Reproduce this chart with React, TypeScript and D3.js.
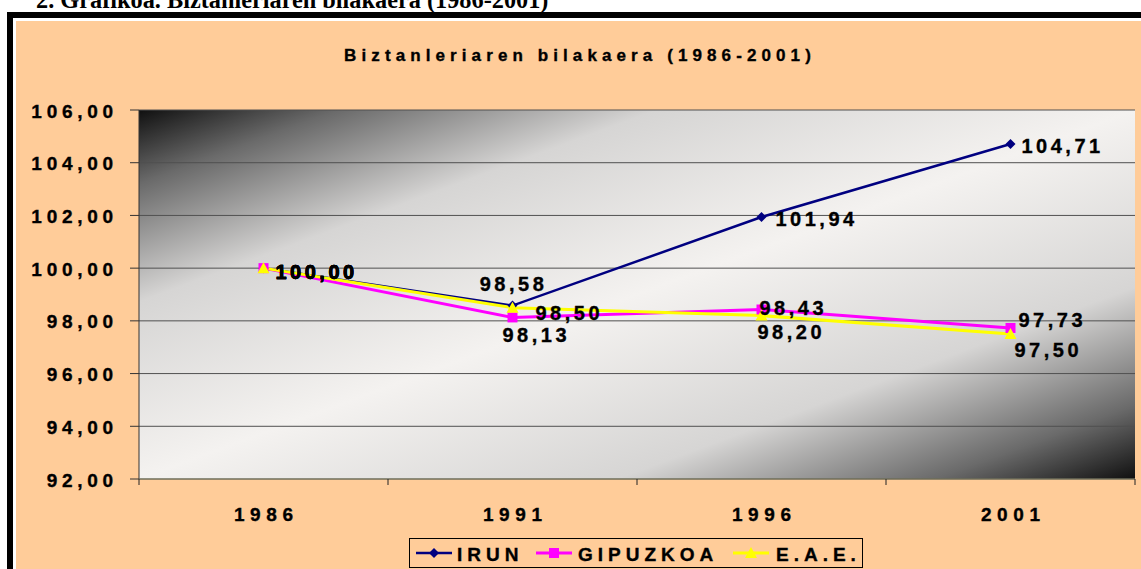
import * as d3 from 'd3';

const years = ['1986', '1991', '1996', '2001'];
const irun = [100.0, 98.58, 101.94, 104.71];
const gipuzkoa = [100.0, 98.13, 98.43, 97.73];
const eae = [100.0, 98.5, 98.2, 97.5];
const yTicks = [92, 94, 96, 98, 100, 102, 104, 106];

// label placement per point: [dx, dy, anchor]
type Place = [number, number, 'start' | 'middle' | 'end'];
const irunPlace: Place[] = [[12, 4, 'start'], [1, -22, 'middle'], [14, 2, 'start'], [11, 2, 'start']];
const gipPlace: Place[] = [[12, 4, 'start'], [-10, 18, 'start'], [-2, -2, 'start'], [8, -8, 'start']];
const eaePlace: Place[] = [[12, 4, 'start'], [23, 5, 'start'], [-4, 16, 'start'], [4, 16, 'start']];

const W = 1141;
const H = 569;
const plot = { left: 139, right: 1135, top: 110, bottom: 479 };
const FONT = '"Liberation Sans", Arial, sans-serif';

const fmt = (v: number) => v.toFixed(2).replace('.', ',');

const x = d3.scaleBand<string>().domain(years).range([plot.left, plot.right]);
const y = d3.scaleLinear().domain([92, 106]).range([plot.bottom, plot.top]);
const cx = (yr: string) => (x(yr) ?? 0) + x.bandwidth() / 2;

const series = [
  { name: 'IRUN', values: irun, color: '#000080', width: 2.5, marker: 'diamond', place: irunPlace },
  { name: 'GIPUZKOA', values: gipuzkoa, color: '#ff00ff', width: 3, marker: 'square', place: gipPlace },
  { name: 'E.A.E.', values: eae, color: '#ffff00', width: 3, marker: 'triangle', place: eaePlace },
];

function Marker({ type, px, py, color }: { type: string; px: number; py: number; color: string }) {
  if (type === 'diamond') {
    const s = 5;
    return <path d={`M${px},${py - s}L${px + s},${py}L${px},${py + s}L${px - s},${py}Z`} fill={color} />;
  }
  if (type === 'square') {
    return <rect x={px - 5} y={py - 5} width={10} height={10} fill={color} />;
  }
  return <path d={`M${px},${py - 6}L${px + 6},${py + 5}L${px - 6},${py + 5}Z`} fill={color} />;
}

const bold = { fontFamily: FONT, fontWeight: 'bold' as const, stroke: '#000', strokeWidth: 0.35 };

export default function App() {
  const line = d3
    .line<number>()
    .x((_, i) => cx(years[i]))
    .y((d) => y(d));

  const legendItems = [
    { s: series[0], lx: 416, tx: 457 },
    { s: series[1], lx: 536, tx: 578 },
    { s: series[2], lx: 733, tx: 776 },
  ];

  return (
    <svg width={W} height={H} style={{ position: 'absolute', left: 0, top: 0, display: 'block' }}>
      <defs>
        <linearGradient id="plotbg" x1="0" y1="0" x2="1" y2="1">
          <stop offset="0" stopColor="#101010" />
          <stop offset="0.1" stopColor="#6a6a6a" />
          <stop offset="0.26" stopColor="#d6d5d4" />
          <stop offset="0.5" stopColor="#f4f2f0" />
          <stop offset="0.74" stopColor="#d6d5d4" />
          <stop offset="0.9" stopColor="#6a6a6a" />
          <stop offset="1" stopColor="#101010" />
        </linearGradient>
      </defs>
      <rect width={W} height={H} fill="#ffffff" />
      <text x={36} y={8} fontFamily='"Liberation Serif", "Times New Roman", serif' fontWeight="bold" fontSize={24.3}>
        2. Grafikoa. Biztanleriaren bilakaera (1986-2001)
      </text>
      <rect x={7} y={12} width={W} height={H} fill="#000" />
      <rect x={13} y={18} width={W} height={H} fill="#fff" />
      <rect x={16} y={21} width={W} height={H} fill="#ffcc99" />

      <text x={580} y={55} textAnchor="middle" dominantBaseline="central" {...bold}
        fontSize={17} letterSpacing={5.1}>
        Biztanleriaren bilakaera (1986-2001)
      </text>

      <rect x={plot.left} y={plot.top} width={plot.right - plot.left} height={plot.bottom - plot.top} fill="url(#plotbg)" />

      {yTicks.map((t) => (
        <g key={t}>
          {t !== 92 && (
            <line x1={plot.left} x2={plot.right} y1={y(t)} y2={y(t)} stroke="#505050" strokeWidth={1} />
          )}
          <line x1={plot.left - 9} x2={plot.left} y1={y(t)} y2={y(t)} stroke="#333" strokeWidth={1} />
          <text x={113 + 4.7} y={y(t) + 1} textAnchor="end" dominantBaseline="central" {...bold}
            fontSize={19} letterSpacing={4.7}>
            {fmt(t)}
          </text>
        </g>
      ))}
      <line x1={plot.left} x2={plot.left} y1={plot.top} y2={plot.bottom} stroke="#333" strokeWidth={1} />
      <line x1={plot.left} x2={plot.right} y1={plot.bottom} y2={plot.bottom} stroke="#6e6e5a" strokeWidth={1.5} />
      {[...years.map((yr) => x(yr) ?? 0), plot.right].map((tx, i) => (
        <line key={i} x1={tx} x2={tx} y1={plot.bottom} y2={plot.bottom + 6} stroke="#222" strokeWidth={1} />
      ))}
      {years.map((yr) => (
        <text key={yr} x={cx(yr) + 2.8} y={514} textAnchor="middle" dominantBaseline="central" {...bold}
          fontSize={19} letterSpacing={5.6}>
          {yr}
        </text>
      ))}

      {series.map((s) => (
        <path key={s.name} d={line(s.values) ?? ''} fill="none" stroke={s.color} strokeWidth={s.width} />
      ))}
      {series.map((s) =>
        s.values.map((v, i) => (
          <Marker key={s.name + i} type={s.marker} px={cx(years[i])} py={y(v)} color={s.color} />
        ))
      )}
      {series.map((s) =>
        s.values.map((v, i) => {
          const [dx, dy, anchor] = s.place[i];
          return (
            <text key={'l' + s.name + i} x={cx(years[i]) + dx} y={y(v) + dy} textAnchor={anchor}
              dominantBaseline="central" {...bold} fontSize={20} letterSpacing={3.5}>
              {fmt(v)}
            </text>
          );
        })
      )}

      <rect x={409.5} y={538.5} width={453} height={29} fill="#ffcc99" stroke="#000" strokeWidth={1} />
      {legendItems.map(({ s, lx, tx }) => (
        <g key={s.name}>
          <line x1={lx} x2={lx + 36} y1={553} y2={553} stroke={s.color} strokeWidth={s.width} />
          <Marker type={s.marker} px={lx + 18} py={553} color={s.color} />
          <text x={tx} y={554} dominantBaseline="central" {...bold} fontSize={19} letterSpacing={5}>
            {s.name}
          </text>
        </g>
      ))}
    </svg>
  );
}
